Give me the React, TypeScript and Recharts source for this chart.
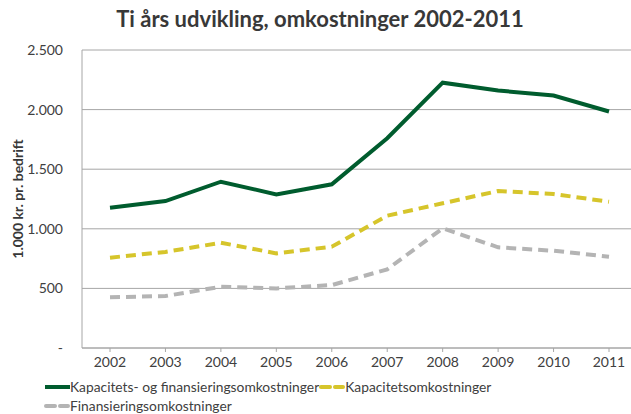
import { LineChart, Line, XAxis, YAxis, CartesianGrid } from 'recharts';

const years = ['2002', '2003', '2004', '2005', '2006', '2007', '2008', '2009', '2010', '2011'];
const totalCosts = [1177, 1233, 1395, 1289, 1373, 1760, 2226, 2160, 2118, 1984];
const capacityCosts = [758, 806, 883, 794, 850, 1110, 1214, 1317, 1292, 1227];
const financingCosts = [425, 436, 514, 500, 528, 660, 1004, 845, 816, 766];
const yTicks = [0, 500, 1000, 1500, 2000, 2500];

const series = [
  { key: 'total', name: 'Kapacitets- og finansieringsomkostninger', color: '#005c2e', dash: undefined },
  { key: 'capacity', name: 'Kapacitetsomkostninger', color: '#d6c52b', dash: '10 6' },
  { key: 'financing', name: 'Finansieringsomkostninger', color: '#b4b4b4', dash: '10 6' },
];

const data = years.map((year, i) => ({
  year,
  total: totalCosts[i],
  capacity: capacityCosts[i],
  financing: financingCosts[i],
}));

const FONT = 'Lato, "Noto Sans", sans-serif';

const fmt = (v: number) => (v === 0 ? '-' : String(v).replace(/\B(?=(\d{3})+(?!\d))/g, '.'));

function LegendBox() {
  return (
    <div
      style={{
        position: 'absolute',
        left: 44,
        top: 377,
        display: 'flex',
        flexWrap: 'wrap',
        width: 480,
        fontFamily: FONT,
        fontSize: 13.8,
        color: '#404040',
        lineHeight: '19px',
      }}
    >
      {series.map((s) => (
        <div key={s.key} style={{ display: 'flex', alignItems: 'center', whiteSpace: 'nowrap' }}>
          <svg width={26} height={10}>
            {s.dash ? (
              <>
                <line x1={2} y1={5} x2={11} y2={5} stroke={s.color} strokeWidth={4} strokeLinecap="round" />
                <line x1={16} y1={5} x2={24} y2={5} stroke={s.color} strokeWidth={4} strokeLinecap="round" />
              </>
            ) : (
              <line x1={1} y1={5} x2={26} y2={5} stroke={s.color} strokeWidth={4} />
            )}
          </svg>
          <span>{s.name}</span>
        </div>
      ))}
    </div>
  );
}

export default function App() {
  return (
    <div style={{ position: 'absolute', left: 0, top: 0, width: 631, height: 414, background: '#fff', overflow: 'hidden' }}>
      <div
        style={{
          position: 'absolute',
          top: 5,
          left: 0,
          width: 640,
          textAlign: 'center',
          fontFamily: FONT,
          fontWeight: 700,
          fontSize: 22,
          color: '#383838',
        }}
      >
        Ti års udvikling, omkostninger 2002-2011
      </div>
      <LineChart
        width={631}
        height={414}
        data={data}
        margin={{ top: 50, right: -6, bottom: 36, left: 0 }}
      >
        <CartesianGrid vertical={false} stroke="#a6a6a6" />
        <XAxis
          dataKey="year"
          stroke="#a6a6a6"
          height={30}
          padding={{ left: 28, right: 28 }}
          tickSize={4}
          tickMargin={5}
          tick={{ fill: '#404040', fontSize: 14, fontFamily: FONT }}
        />
        <YAxis
          width={82}
          domain={[0, 2500]}
          ticks={yTicks}
          tickFormatter={fmt}
          stroke="#a6a6a6"
          tickLine={false}
          tickMargin={13}
          tick={{ fill: '#404040', fontSize: 14, fontFamily: FONT }}
          label={{
            value: '1.000 kr. pr. bedrift',
            angle: -90,
            position: 'insideLeft',
            offset: 18,
            style: { textAnchor: 'middle', fill: '#383838', fontSize: 14, fontWeight: 700, fontFamily: FONT },
          }}
        />
        {series.map((s) => (
          <Line
            key={s.key}
            dataKey={s.key}
            name={s.name}
            type="linear"
            stroke={s.color}
            strokeWidth={4}
            strokeDasharray={s.dash}
            dot={false}
            isAnimationActive={false}
          />
        ))}
      </LineChart>
      <LegendBox />
    </div>
  );
}
